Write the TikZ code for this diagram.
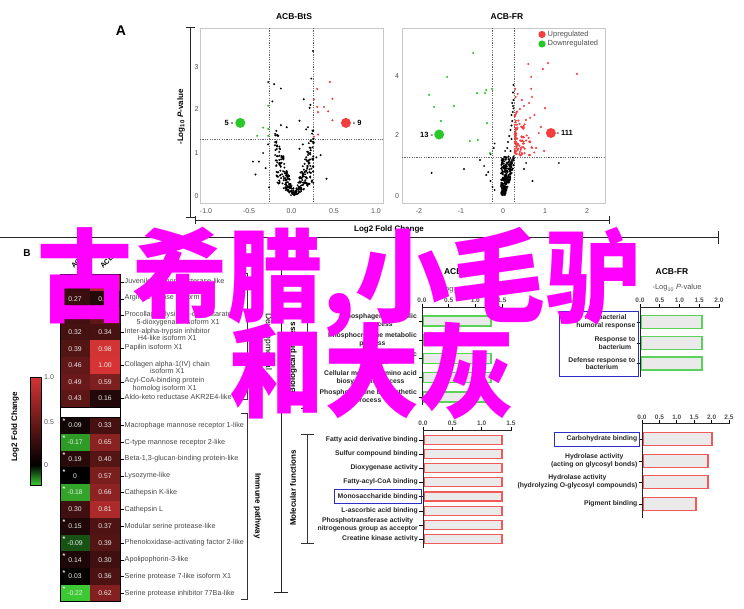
\documentclass[tikz,border=0pt]{standalone}
\usepackage{fontspec}
\setmainfont{Liberation Sans}
\newfontfamily\cjkfont{Noto Sans CJK SC}
\definecolor{hmred}{RGB}{214,52,52}
\definecolor{hmgreen}{RGB}{60,200,50}
\definecolor{upred}{RGB}{242,62,62}
\definecolor{dngreen}{RGB}{40,200,40}
\definecolor{txtgray}{RGB}{80,80,80}
\definecolor{barfill}{RGB}{234,234,234}
\definecolor{bargreen}{RGB}{90,210,90}
\definecolor{barred}{RGB}{242,90,90}
\definecolor{boxblue}{RGB}{45,45,200}
\definecolor{wmark}{RGB}{255,0,255}
\newcommand\hmcell[5]{%
  \pgfmathsetmacro\hmneg{#1<0 ? 1 : 0}%
  \ifdim\hmneg pt>0.5pt
    \pgfmathsetmacro\hmp{min(-#1/0.22,1)*100}%
    \fill[hmgreen!\hmp!black] (#2,#3) rectangle (#4,#5);
  \else
    \pgfmathsetmacro\hmp{min(#1,1)*100}%
    \fill[hmred!\hmp!black] (#2,#3) rectangle (#4,#5);
  \fi}
\begin{document}
\begin{tikzpicture}[x=1pt,y=-1pt,
  ticklab/.style={font=\fontsize{7}{8}\selectfont, text=txtgray, inner sep=0.5pt},
  boldtick/.style={font=\bfseries\fontsize{6.5}{7}\selectfont, text=txtgray, inner sep=0.5pt},
  ptitle/.style={font=\bfseries\fontsize{8.5}{10}\selectfont, inner sep=0.5pt},
  axline/.style={line width=0.9pt, black!85},
  thr/.style={black!60, line width=0.6pt, dash pattern=on 1.2pt off 1.2pt},
  frm/.style={draw=black!22, line width=1pt},
  hmlab/.style={font=\fontsize{7.2}{7.6}\selectfont, text=black!72, anchor=north west, align=center, inner sep=0pt},
  hmnum/.style={font=\fontsize{6.8}{8}\selectfont, text=white!92!black, inner sep=0pt},
  barlab/.style={font=\bfseries\fontsize{6.8}{7.6}\selectfont, text=black!85, anchor=east, align=center, inner sep=0.5pt},
  gbar/.style={fill=barfill, draw=bargreen, line width=1.1pt},
  rbar/.style={fill=barfill, draw=barred, line width=1.1pt},
  bbox/.style={draw=boxblue, line width=1pt},
  grplab/.style={font=\bfseries\fontsize{8}{9}\selectfont, inner sep=0pt},
  wm/.style={text=wmark, font=\cjkfont\bfseries\fontsize{95}{95}\selectfont, inner sep=0pt, yscale=1.07}
]
\useasboundingbox (0,0) rectangle (744,608);
\fill[white] (0,0) rectangle (744,608);

% ================= Panel A =================
\node[font=\bfseries\fontsize{14}{14}\selectfont] (labA) at (121,31) {A};
% left axis
\draw[axline] (190,27) -- (190,217);
\draw[axline] (186,27) -- (195,27);
\draw[axline] (186,217) -- (195,217);
\node[rotate=90, font=\bfseries\fontsize{8}{9}\selectfont] (ylabA) at (181,117) {-Log\textsubscript{10} \textit{P}-value};
% bottom bracket
\draw[axline] (195,220) -- (609,220);
\draw[axline] (195,216) -- (195,224);
\draw[axline] (609,216) -- (609,224);
\node[font=\bfseries\fontsize{8}{9}\selectfont] (xlabA) at (389,229) {Log2 Fold Change};
% long separator
\draw[axline] (0,237) -- (718,237);
\draw[axline] (718,231) -- (718,244);

% ---- ACB-BtS volcano
\node[ptitle] (tBtS) at (294,17) {ACB-BtS};
\draw[frm] (200,28) rectangle (383,203);
\foreach \v/\yy in {3/67,2/109.5,1/153,0/196}
  \node[ticklab] (bty\v) at (196.5,\yy) {\v};
\foreach \v/\xx in {-1.0/206,-0.5/249,0.0/291.5,0.5/334,1.0/376}
  \node[ticklab] at (\xx,211) {\v};
\draw[thr] (269,28) -- (269,203);
\draw[thr] (313,28) -- (313,203);
\draw[thr] (200,139) -- (383,139);
\begin{scope}[shift={(291,196)}, x=84.5pt, y=43pt]
  \pgfmathsetseed{11}
  \foreach \i in {1,...,280}{
    \pgfmathsetmacro\uu{rand}
    \pgfmathsetmacro\ww{rnd}
    \pgfmathsetmacro\xv{0.04+0.23*\uu}
    \pgfmathsetmacro\yv{abs(\uu)*(0.3+1.3*\ww)+0.06*rnd}
    \fill (\xv,\yv) circle (1.1pt);
  }
  \foreach \px/\py in {0.26/3.37,0.24/2.73,-0.27/2.65,-0.2/2.6,-0.12/2.5,-0.22/2.2,0.15/2.25,0.22/2.05,0.23/2.12,0.2/1.6,0.18/1.55,-0.12/1.65,-0.05/1.6,0.1/1.75,-0.42/0.5,-0.45/0.8,-0.38/0.8,0.42/0.4,0.35/0.95,0.3/0.9,-0.33/1.0,-0.3/0.65,-0.27/1.2,0.27/1.25,-0.15/1.4,0.25/1.45,-0.26/0.2,0.14/1.2,0.1/1.1,0.02/0.05,0.05/0.1,0.0/0.02,0.07/0.15,-0.02/0.08,0.08/0.05,0.03/0.18}
    \fill (\px,\py) circle (1.1pt);
  \foreach \px/\py in {0.46/2.65,0.31/2.49,0.49/2.26,0.27/2.25,0.31/2.07,0.39/2.07,0.32/1.95,0.44/1.97,0.49/1.76,0.32/1.43,0.27/1.38}
    \fill[upred] (\px,\py) circle (1.2pt);
  \foreach \px/\py in {-0.27/2.1,-0.33/1.59,-0.27/1.56,-0.4/1.4,-0.27/1.4}
    \fill[dngreen] (\px,\py) circle (1.2pt);
  \fill[dngreen] (-0.6,1.7) circle (5pt);
  \fill[upred] (0.65,1.7) circle (5pt);
  \node[anchor=east, font=\bfseries\fontsize{7.5}{8}\selectfont, inner sep=0pt] (n5) at (-0.68,1.7) {5 -};
  \node[anchor=west, font=\bfseries\fontsize{7.5}{8}\selectfont, inner sep=0pt] (n9) at (0.73,1.7) {- 9};
\end{scope}

% ---- ACB-FR volcano
\node[ptitle] (tFR) at (507,17) {ACB-FR};
\draw[frm] (402,28) rectangle (605,203);
\foreach \v/\yy in {4/76,2/135.5,0/196}
  \node[ticklab] (fry\v) at (397,\yy) {\v};
\foreach \v/\xx in {-2/419,-1/461,0/503,1/545,2/587}
  \node[ticklab] at (\xx,211) {\v};
\draw[thr] (492,28) -- (492,203);
\draw[thr] (514,28) -- (514,203);
\draw[thr] (402,157) -- (605,157);
\begin{scope}[shift={(503,196)}, x=42pt, y=30pt]
  \pgfmathsetseed{5}
  \foreach \i in {1,...,230}{
    \pgfmathsetmacro\ww{rnd}
    \pgfmathsetmacro\uu{rand}
    \pgfmathsetmacro\yv{1.3*\ww+0.03}
    \pgfmathsetmacro\xv{min(0.11*\yv+0.15*\uu*(0.3+\ww),0.25)}
    \fill (\xv,\yv) circle (1.1pt);
  }
  \foreach \px/\py in {0.25/3.7,0.24/3.45,0.25/3.2,0.24/3.0,0.25/2.92,0.2/2.7,0.22/2.5,0.18/2.2,0.15/2.0,0.12/1.8,0.2/1.9,0.1/1.6,0.05/1.5,0.18/1.5,-0.2/1.75,-0.22/1.6,-0.3/1.4,-0.55/1.2,-0.45/1.0,-0.35/0.8,-0.4/0.7,-0.3/0.5,-0.25/0.3,-0.2/0.2,-1.7/0.77,-0.93/0.9,1.33/1.1,0.7/0.5,0.5/0.9,0.55/1.1,0.22/3.1,0.23/2.8,0.2/2.35}
    \fill (\px,\py) circle (1.1pt);
  \pgfmathsetseed{23}
  \foreach \i in {1,...,95}{
    \pgfmathsetmacro\xv{0.28+0.5*rnd*rnd}
    \pgfmathsetmacro\yv{1.35+1.7*rnd*(0.55+0.45*rnd)}
    \fill[upred] (\xv,\yv) circle (1.2pt);
  }
  \foreach \px/\py in {1.07/4.43,0.95/4.23,0.6/4.4,1.76/4.07,0.67/3.97,1.0/2.93,0.98/1.5,0.79/1.6,0.29/3.57,0.67/3.57,0.69/3.3,0.35/3.4,0.5/3.0,0.45/3.2,0.62/3.1,0.85/2.1,0.9/2.3,0.75/2.7,0.3/3.3,0.4/2.9}
    \fill[upred] (\px,\py) circle (1.2pt);
  \foreach \px/\py in {-0.71/4.77,-1.33/3.97,-1.76/3.37,-1.64/2.97,-1.17/3.0,-1.48/2.5,-0.62/3.43,-0.4/3.53,-0.43/3.43,-0.26/3.57,-0.38/2.43,-0.79/1.83,-0.6/1.87,-0.31/1.43}
    \fill[dngreen] (\px,\py) circle (1.2pt);
  \fill[dngreen] (-1.52,2.05) circle (5pt);
  \fill[upred] (1.14,2.1) circle (5pt);
  \node[anchor=east, font=\bfseries\fontsize{7.5}{8}\selectfont, inner sep=0pt] (n13) at (-1.66,2.05) {13 -};
  \node[anchor=west, font=\bfseries\fontsize{7.5}{8}\selectfont, inner sep=0pt] (n111) at (1.27,2.1) {- 111};
\end{scope}
\fill[upred] (542,34.5) circle (3.6pt);
\fill[dngreen] (542,44) circle (3.6pt);
\node[anchor=west, font=\fontsize{7.5}{8}\selectfont, text=txtgray, inner sep=0pt] (lgup) at (547.5,34.5) {Upregulated};
\node[anchor=west, font=\fontsize{7.5}{8}\selectfont, text=txtgray, inner sep=0pt] (lgdn) at (547.5,44) {Downregulated};

% ================= Panel B =================
\node[font=\bfseries\fontsize{10}{10}\selectfont] (labB) at (27,253) {B};
% colour bar
\shade[top color=hmred, bottom color=black] (30,377) rectangle (41,465);
\shade[top color=black, bottom color=hmgreen] (30,465) rectangle (41,485);
\draw[line width=0.7pt] (30,377) rectangle (41,485);
\foreach \v/\yy in {1.0/377,0.5/422,0/465}
  \node[ticklab, anchor=west] at (43.5,\yy) {\v};
\node[rotate=90, font=\bfseries\fontsize{8}{9}\selectfont] (cblab) at (15,427) {Log2 Fold Change};

% heat-map headers
\node[rotate=45, anchor=base west, font=\bfseries\fontsize{7}{8}\selectfont, inner sep=0pt] (hca) at (74,269) {ACB-BtS};
\node[rotate=45, anchor=base west, font=\bfseries\fontsize{7}{8}\selectfont, inner sep=0pt] (hcb) at (103,269) {ACB-FR};

% developmental rows
\foreach \ri/\va/\vb/\lab in {
  0/0.27/0.80/{Juvenile hormone esterase-like\\isoform X1},
  1/0.27/0.17/{Arginine kinase isoform X1},
  2/0.31/0.45/{Procollagen-lysine,2-oxoglutarate\\5-dioxygenase isoform X1},
  3/0.32/0.34/{Inter-alpha-trypsin inhibitor\\H4-like isoform X1},
  4/0.39/0.98/{Papilin isoform X1},
  5/0.46/1.00/{Collagen alpha-1(IV) chain\\isoform X1},
  6/0.49/0.59/{Acyl-CoA-binding protein\\homolog isoform X1},
  7/0.43/0.16/{Aldo-keto reductase AKR2E4-like}}{
  \pgfmathsetmacro\yt{274+16.6*\ri}
  \pgfmathsetmacro\yb{\yt+16.6}
  \pgfmathsetmacro\yc{\yt+8.3}
  \hmcell{\va}{60}{\yt}{90}{\yb}
  \hmcell{\vb}{90}{\yt}{120}{\yb}
  \node[hmnum] (hda\ri) at (75,\yc) {\va};
  \node[hmnum] (hdb\ri) at (105,\yc) {\vb};
  \draw[line width=0.6pt] (120,\yc) -- (123.5,\yc);
  \node[hmlab] (hdl\ri) at (124.5,\yc-4.4) {\lab};
}
% immune rows
\foreach \ri/\st/\va/\vb/\lab in {
  0/1/0.09/0.33/{Macrophage mannose receptor 1-like},
  1/1/-0.17/0.65/{C-type mannose receptor 2-like},
  2/1/0.19/0.40/{Beta-1,3-glucan-binding protein-like},
  3/1/0/0.57/{Lysozyme-like},
  4/1/-0.18/0.66/{Cathepsin K-like},
  5/0/0.30/0.81/{Cathepsin L},
  6/1/0.15/0.37/{Modular serine protease-like},
  7/1/-0.09/0.39/{Phenoloxidase-activating factor 2-like},
  8/1/0.14/0.30/{Apolipophorin-3-like},
  9/1/0.03/0.36/{Serine protease 7-like isoform X1},
  10/1/-0.22/0.62/{Serine protease inhibitor 77Ba-like}}{
  \pgfmathsetmacro\yt{417+16.8*\ri}
  \pgfmathsetmacro\yb{\yt+16.8}
  \pgfmathsetmacro\yc{\yt+8.4}
  \hmcell{\va}{60}{\yt}{90}{\yb}
  \hmcell{\vb}{90}{\yt}{120}{\yb}
  \node[hmnum] (hia\ri) at (75,\yc) {\va};
  \node[hmnum] (hib\ri) at (105,\yc) {\vb};
  \ifnum\st=1 \node[hmnum, font=\bfseries\fontsize{7}{7}\selectfont] (his\ri) at (64,\yt+4.5) {*};\fi
  \draw[line width=0.6pt] (120,\yc) -- (123.5,\yc);
  \node[hmlab, anchor=west] (hil\ri) at (124.5,\yc) {\lab};
}
\draw[line width=0.8pt] (60,274) rectangle (120,601.8);
\draw[line width=0.6pt] (60,406.8) -- (120,406.8);
\draw[line width=0.6pt] (60,417) -- (120,417);

% group brackets
\draw[line width=0.8pt, black!80] (241,273) -- (247.5,273) -- (247.5,399.5) -- (241,399.5);
\node[rotate=-90, anchor=west, font=\fontsize{8.5}{9}\selectfont, inner sep=0pt] (gdev) at (268,313) {Developmental};
\draw[line width=0.8pt, black!80] (241,413.5) -- (247.5,413.5) -- (247.5,599) -- (241,599);
\node[rotate=-90, grplab] (gimm) at (257.5,506) {Immune pathway};
\draw[axline] (281,246) -- (281,592);
\draw[axline] (275,246) -- (281,246);
\draw[axline] (274,592) -- (288,592);
\draw[line width=0.8pt, black!80] (302,309) -- (313,309);
\draw[line width=0.8pt, black!80] (307.5,309) -- (307.5,408);
\draw[line width=0.8pt, black!80] (301,408) -- (314,408);
\node[rotate=90, grplab] (gbp) at (293,358) {Biological process};
\draw[line width=0.8pt, black!80] (301,434) -- (314,434);
\draw[line width=0.8pt, black!80] (307.5,434) -- (307.5,543);
\draw[line width=0.8pt, black!80] (301,543) -- (314,543);
\node[rotate=90, grplab] (gmf) at (293,488) {Molecular functions};

% ---- bar chart ACB-BtS, biological process
\node[ptitle] (tbBtS) at (462,272) {ACB-BtS};
\node[font=\fontsize{7.5}{8}\selectfont, text=txtgray] (pvBtS) at (463,290) {-Log\textsubscript{10} \textit{P}-value};
\draw[axline] (422,307) -- (503,307);
\foreach \xx/\v in {422/0.0,448.7/0.5,475.3/1.0,502/1.5}{
  \draw[line width=0.7pt] (\xx,307) -- (\xx,304);
  \node[boldtick] at (\xx,300) {\v};}
\foreach \yc/\lab in {321/{Phosphagen metabolic\\process},340/{Phosphocreatine metabolic\\process},358.5/{Phosphagen biosynthetic\\process},377.5/{Cellular modified amino acid\\biosynthetic process},397/{Phosphocreatine biosynthetic\\process}}{
  \filldraw[gbar] (423.5,\yc-5) rectangle (491,\yc+5);
  \draw[line width=0.7pt] (418.5,\yc) -- (422,\yc);
  \node[barlab] at (417.5,\yc) {\lab};}
\draw[axline] (422,307) -- (422,405);

% ---- bar chart ACB-BtS, molecular functions
\draw[axline] (423,430) -- (512,430);
\foreach \xx/\v in {423/0.0,452.3/0.5,481.7/1.0,511/1.5}{
  \draw[line width=0.7pt] (\xx,430) -- (\xx,427);
  \node[boldtick] at (\xx,423) {\v};}
\foreach \yc/\lab in {440/{Fatty acid derivative binding},454/{Sulfur compound binding},468/{Dioxygenase activity},482/{Fatty-acyl-CoA binding},496.5/{Monosaccharide binding},511/{L-ascorbic acid binding},525/{Phosphotransferase activity\\nitrogenous group as acceptor},539/{Creatine kinase activity}}{
  \filldraw[rbar] (424.5,\yc-4.5) rectangle (502,\yc+4.5);
  \draw[line width=0.7pt] (419,\yc) -- (423,\yc);
  \node[barlab] at (418.5,\yc) {\lab};}
\draw[axline] (423,430) -- (423,548);
\draw[bbox] (334,489) rectangle (421,503.5);

% ---- bar chart ACB-FR, biological process
\node[ptitle] (tbFR) at (672,272) {ACB-FR};
\node[font=\fontsize{7.5}{8}\selectfont, text=txtgray] (pvFR) at (677,288) {-Log\textsubscript{10} \textit{P}-value};
\draw[axline] (640,307) -- (720,307);
\foreach \xx/\v in {640/0.0,659.75/0.5,679.5/1.0,699.25/1.5,719/2.0}{
  \draw[line width=0.7pt] (\xx,307) -- (\xx,304);
  \node[boldtick] at (\xx,300) {\v};}
\foreach \yc/\lab in {322/{Antibacterial\\humoral response},343/{Response to\\bacterium},363.5/{Defense response to\\bacterium}}{
  \filldraw[gbar] (641.5,\yc-6.5) rectangle (702,\yc+6.5);
  \draw[line width=0.7pt] (636.5,\yc) -- (640,\yc);
  \node[barlab] at (636,\yc) {\lab};}
\draw[axline] (640,307) -- (640,377);
\draw[bbox] (559.5,311) rectangle (638,376);

% ---- bar chart ACB-FR, molecular functions
\draw[axline] (642,423) -- (730,423);
\foreach \xx/\v in {642/0.0,659.4/0.5,676.8/1.0,694.2/1.5,711.6/2.0,729/2.5}{
  \draw[line width=0.7pt] (\xx,423) -- (\xx,420);
  \node[boldtick] at (\xx,417) {\v};}
\foreach \yc/\xe/\lab in {439/712/{Carbohydrate binding},461/708/{Hydrolase activity\\(acting on glycosyl bonds)},482/708/{Hydrolase activity\\(hydrolyzing O-glycosyl compounds)},504/696/{Pigment binding}}{
  \filldraw[rbar] (643.5,\yc-6.5) rectangle (\xe,\yc+6.5);
  \draw[line width=0.7pt] (638.5,\yc) -- (642,\yc);
  \node[barlab] at (638,\yc) {\lab};}
\draw[axline] (642,423) -- (642,518);
\draw[bbox] (554,432) rectangle (639,446.5);

% ================= watermark =================
\node[wm, anchor=base west] (wm1) at (37,314) {古希腊,小毛驴};
\node[wm, anchor=base] (wm2) at (372,409) {和大灰};
\end{tikzpicture}
\end{document}
